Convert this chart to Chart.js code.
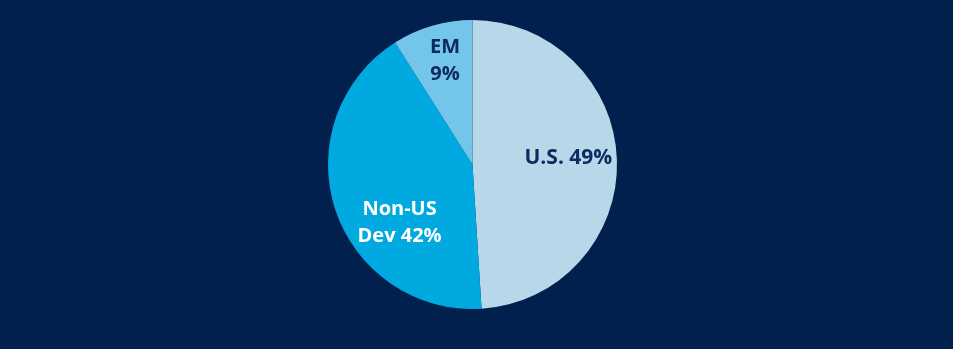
<!DOCTYPE html>
<html lang="en">
<head>
    <meta charset="UTF-8">
    <title>Regional Allocation</title>
    <script src="https://cdn.jsdelivr.net/npm/chart.js"></script>
    <style>
        html, body {
            margin: 0;
            padding: 0;
            background-color: #01204d;
            overflow: hidden;
        }
        #wrap {
            width: 953px;
            height: 349px;
        }
    </style>
</head>
<body>
    <div id="wrap">
        <canvas id="pieChart" width="953" height="349"></canvas>
    </div>

    <script>
        const regions = ["U.S.", "Non-US Dev", "EM"];
        const shares = [49, 42, 9];
        const labelLines = [["U.S. 49%"], ["Non-US", "Dev 42%"], ["EM", "9%"]];
        const sliceColors = ["#b8d8ea", "#00a9e0", "#74c5ea"];
        const textColors = ["#0c2b60", "#ffffff", "#0c2b60"];

        // where each label sits: angle from 12 o'clock (deg) and share of radius
        const labelSpots = [
            { angle: 86, r: 0.665 },
            { angle: 231.5, r: 0.645 },
            { angle: 345.2, r: 0.745 }
        ];

        const sliceLabels = {
            id: 'sliceLabels',
            afterDatasetsDraw(chart) {
                const ctx = chart.ctx;
                const arcs = chart.getDatasetMeta(0).data;
                ctx.save();
                ctx.textAlign = 'center';
                ctx.textBaseline = 'middle';
                arcs.forEach((arc, i) => {
                    const spot = labelSpots[i];
                    const a = spot.angle * Math.PI / 180;
                    const cx = arc.x + Math.sin(a) * arc.outerRadius * spot.r;
                    const cy = arc.y - Math.cos(a) * arc.outerRadius * spot.r;
                    const lines = labelLines[i];
                    const lh = 27;
                    ctx.font = (i === 0 ? 'bold 21px' : 'bold 20px') + ' "Open Sans", sans-serif';
                    ctx.fillStyle = textColors[i];
                    lines.forEach((line, j) => {
                        ctx.fillText(line, cx, cy + (j - (lines.length - 1) / 2) * lh);
                    });
                });
                ctx.restore();
            }
        };

        new Chart(document.getElementById('pieChart'), {
            type: 'pie',
            data: {
                labels: regions,
                datasets: [{
                    data: shares,
                    backgroundColor: sliceColors,
                    borderWidth: 0
                }]
            },
            options: {
                responsive: false,
                animation: false,
                layout: {
                    padding: { top: 20, bottom: 40, left: 0, right: 8 }
                },
                plugins: {
                    legend: { display: false },
                    tooltip: { enabled: false }
                }
            },
            plugins: [sliceLabels]
        });
    </script>
</body>
</html>
